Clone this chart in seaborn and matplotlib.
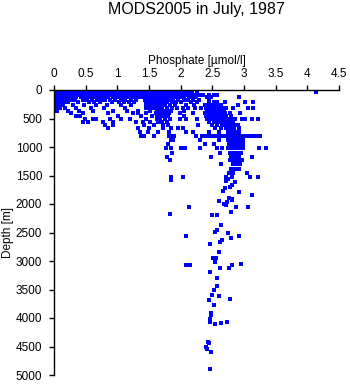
import matplotlib
matplotlib.use("Agg")
import matplotlib.pyplot as plt
import seaborn as sns
import pandas as pd

# Phosphate profiles (µmol/l) grouped by sampling depth (m)
row_depths = [0, 30, 60, 95, 130, 170, 210, 260, 310, 360, 410, 460, 510, 560,
              620, 670, 730, 800, 870, 950, 1020, 1100, 1170, 1230, 1300, 1380,
              1450, 1530]

p_0000 = [0.00, 0.03, 0.07, 0.10, 0.14, 0.18, 0.21, 0.25, 0.29, 0.33, 0.36, 0.40,
          0.44, 0.47, 0.51, 0.55, 0.59, 0.62, 0.66, 0.70, 0.74, 0.77, 0.81, 0.85,
          0.89, 0.92, 0.96, 1.00, 1.04, 1.07, 1.11, 1.15, 1.19, 1.22, 1.26, 1.30,
          1.34, 1.37, 1.41, 1.45, 1.49, 1.52, 1.56, 1.60, 1.64, 1.67, 1.71, 1.75,
          1.79, 1.83, 1.87]
p_0030 = [0.01, 0.05, 0.09, 0.12, 0.16, 0.20, 0.23, 0.27, 0.31, 0.35, 0.38, 0.42,
          0.46, 0.49, 0.53, 0.57, 0.61, 0.64, 0.68, 0.72, 0.75, 0.79, 0.83, 0.87,
          0.90, 0.94, 0.98, 1.02, 1.05, 1.09, 1.13, 1.17, 1.20, 1.24, 1.28, 1.32,
          1.35, 1.39, 1.43, 1.47, 1.50, 1.54, 1.58, 1.62, 1.65, 1.69, 1.73, 1.77,
          1.81, 1.85, 1.90, 1.94, 2.00, 2.08, 2.16, 4.13]
p_0060 = [0.00, 0.04, 0.08, 0.11, 0.15, 0.19, 0.22, 0.26, 0.30, 0.34, 0.37, 0.41,
          0.45, 0.48, 0.52, 0.56, 0.60, 0.63, 0.67, 0.71, 0.75, 0.78, 0.82, 0.86,
          0.89, 0.93, 0.97, 1.01, 1.04, 1.08, 1.12, 1.16, 1.19, 1.23, 1.27, 1.31,
          1.34, 1.38, 1.42, 1.46, 1.49, 1.53, 1.57, 1.61, 1.64, 1.68, 1.72, 1.76,
          1.80, 1.84, 1.88, 1.92, 1.97, 2.03, 2.10, 2.18, 2.25]
p_0095 = [0.00, 0.04, 0.07, 0.11, 0.15, 0.18, 0.22, 0.26, 0.29, 0.33, 0.37, 0.41,
          0.44, 0.48, 0.52, 0.55, 0.59, 0.63, 0.66, 0.70, 0.74, 0.78, 0.81, 0.85,
          0.89, 0.93, 0.96, 1.00, 1.04, 1.08, 1.11, 1.15, 1.19, 1.23, 1.27, 1.30,
          1.34, 1.38, 1.42, 1.45, 1.49, 1.53, 1.56, 1.60, 1.64, 1.68, 1.71, 1.75,
          1.79, 1.83, 1.87, 1.91, 1.96, 2.01, 2.07, 2.14, 2.22, 2.30, 2.36, 2.45,
          2.52, 2.57]
p_0130 = [0.00, 0.04, 0.08, 0.11, 0.15, 0.19, 0.23, 0.27, 0.31, 0.35, 0.42, 0.46,
          0.50, 0.55, 0.62, 0.66, 0.71, 0.78, 0.82, 0.86, 0.93, 0.97, 1.03, 1.08,
          1.14, 1.18, 1.25, 1.30, 1.36, 1.40, 1.45, 1.49, 1.53, 1.57, 1.61, 1.65,
          1.69, 1.73, 1.77, 1.81, 1.85, 1.89, 1.93, 1.97, 2.02, 2.06, 2.13, 2.18,
          2.24, 2.41, 2.48, 2.92]
p_0170 = [0.00, 0.04, 0.08, 0.12, 0.16, 0.20, 0.27, 0.33, 0.45, 0.52, 0.60, 0.68,
          0.74, 0.80, 0.89, 0.97, 1.06, 1.12, 1.21, 1.29, 1.44, 1.48, 1.52, 1.56,
          1.60, 1.64, 1.68, 1.72, 1.76, 1.82, 1.88, 1.95, 2.05, 2.12, 2.20, 2.29,
          2.45]
p_0210 = [0.00, 0.03, 0.07, 0.11, 0.15, 0.22, 0.38, 0.55, 0.63, 0.72, 0.91, 1.02,
          1.10, 1.18, 1.26, 1.45, 1.49, 1.53, 1.57, 1.61, 1.65, 1.69, 1.74, 1.79,
          1.86, 1.93, 2.00, 2.17, 2.26, 2.44, 2.52, 2.58, 2.70, 3.01, 3.14]
p_0260 = [0.00, 0.04, 0.07, 0.11, 0.14, 0.30, 0.48, 0.66, 0.84, 1.05, 1.22, 1.46,
          1.50, 1.54, 1.58, 1.62, 1.66, 1.70, 1.75, 1.83, 1.91, 2.08, 2.21, 2.38,
          2.43, 2.47, 2.51, 2.55, 2.59, 2.64, 2.91]
p_0310 = [0.02, 0.06, 0.10, 0.17, 0.35, 0.58, 0.79, 1.12, 1.46, 1.51, 1.55, 1.59,
          1.63, 1.67, 1.71, 1.78, 1.86, 1.94, 2.03, 2.12, 2.22, 2.32, 2.40, 2.44,
          2.48, 2.52, 2.56, 2.60, 2.65, 2.72, 2.82, 3.07, 3.14]
p_0360 = [0.05, 0.22, 0.40, 0.62, 0.93, 1.16, 1.33, 1.52, 1.62, 1.66, 1.70, 1.74,
          1.78, 1.84, 2.05, 2.41, 2.45, 2.49, 2.53, 2.57, 2.62, 2.68]
p_0410 = [0.27, 0.45, 0.85, 1.25, 1.33, 1.46, 1.61, 1.65, 1.70, 1.76, 1.82, 1.99,
          2.20, 2.38, 2.42, 2.46, 2.50, 2.54, 2.58, 2.63, 2.70, 2.78, 2.93]
p_0460 = [0.34, 0.41, 1.01, 1.38, 1.55, 1.63, 1.68, 1.73, 1.80, 2.06, 2.40, 2.44,
          2.48, 2.52, 2.56, 2.60, 2.65, 2.71, 2.80]
p_0510 = [0.49, 0.62, 0.67, 0.88, 1.06, 1.20, 1.45, 1.62, 1.68, 1.75, 1.83, 1.99,
          2.08, 2.25, 2.41, 2.46, 2.51, 2.56, 2.61, 2.66, 2.71, 2.76, 2.81, 2.86,
          2.97, 3.01, 3.12, 3.22]
p_0560 = [0.46, 0.54, 0.77, 0.93, 1.30, 1.41, 1.52, 1.64, 1.71, 1.78, 2.45, 2.52,
          2.58, 2.64, 2.70, 2.76, 2.82]
p_0620 = [0.80, 0.93, 1.42, 1.58, 1.72, 1.80, 2.27, 2.50, 2.57, 2.66, 2.72, 2.78,
          2.84, 2.90]
p_0670 = [0.85, 1.33, 1.50, 1.72, 1.84, 1.95, 2.04, 2.55, 2.64, 2.72, 2.78, 2.84,
          2.92]
p_0730 = [1.35, 1.49, 1.64, 1.81, 2.09, 2.20, 2.45, 2.60, 2.74, 2.80, 2.86, 2.92]
p_0800 = [1.38, 1.42, 1.58, 1.82, 1.86, 1.90, 2.24, 2.34, 2.40, 2.46, 2.52, 2.58,
          2.64, 2.70, 2.75, 2.80, 2.85, 2.90, 2.95, 3.00, 3.06, 3.12, 3.19, 3.25]
p_0870 = [1.84, 1.88, 2.30, 2.60, 2.74, 2.80, 2.86, 2.92, 2.98]
p_0950 = [1.80, 2.38, 2.52, 2.76, 2.82, 2.87, 2.93, 2.98]
p_1020 = [1.77, 1.84, 2.01, 2.07, 2.31, 2.57, 2.65, 2.74, 2.80, 2.86, 2.92, 2.98,
          3.24, 3.34]
p_1100 = [1.86, 2.62, 2.78, 2.84, 2.90, 2.96]
p_1170 = [1.79, 2.48, 2.80, 2.86, 2.92, 3.12]
p_1230 = [1.83, 2.78, 2.84, 2.90, 2.97]
p_1300 = [2.63, 2.82, 2.88, 2.94]
p_1380 = [2.80, 2.86, 2.92]
p_1450 = [2.76, 2.82, 3.05]
p_1530 = [1.85, 2.04, 2.72, 2.81, 3.09, 3.22]

row_phosphate = [p_0000, p_0030, p_0060, p_0095, p_0130, p_0170, p_0210, p_0260,
                 p_0310, p_0360, p_0410, p_0460, p_0510, p_0560, p_0620, p_0670,
                 p_0730, p_0800, p_0870, p_0950, p_1020, p_1100, p_1170, p_1230,
                 p_1300, p_1380, p_1450, p_1530]

# Individual deep samples
deep_phosphate = [1.85, 2.75, 2.72, 2.86, 2.81, 2.78, 2.67, 2.70, 2.92, 3.12,
                  2.76, 2.81, 2.61, 2.73, 2.68, 2.72, 2.81, 2.88, 3.07, 1.83,
                  2.13, 2.50, 2.58, 2.79, 2.64, 2.54, 2.58, 2.75, 2.92, 2.08,
                  2.79, 2.46, 2.62, 2.66, 2.61, 2.51, 2.56, 2.54, 2.09, 2.15,
                  2.81, 2.95, 2.62, 2.76, 2.47, 2.58, 2.58, 2.53, 2.50, 2.61,
                  2.45, 2.78, 2.52, 2.48, 2.48, 2.46, 2.46, 2.54, 2.64, 2.73,
                  2.43, 2.45, 2.40, 2.42, 2.48, 2.46]
deep_depth = [1579, 1560, 1600, 1620, 1667, 1708, 1766, 1725, 1795, 1848,
              1901, 1918, 1953, 1959, 2000, 2023, 1930, 2058, 2047, 2181,
              2053, 2199, 2199, 2135, 2374, 2485, 2456, 2515, 2556, 2561,
              2602, 2696, 2661, 2637, 2848, 2953, 2953, 3023, 3065, 3076,
              3070, 3053, 3129, 3129, 3193, 3304, 3444, 3515, 3602, 3620,
              3690, 3667, 3778, 3918, 3947, 4011, 4076, 4111, 4082, 4076,
              4415, 4444, 4509, 4550, 4602, 4895]

x_ticks = [0, 0.5, 1, 1.5, 2, 2.5, 3, 3.5, 4, 4.5]
x_tick_labels = ["0", "0.5", "1", "1.5", "2", "2.5", "3", "3.5", "4", "4.5"]
y_ticks = [0, 500, 1000, 1500, 2000, 2500, 3000, 3500, 4000, 4500, 5000]

records = []
for d, plist in zip(row_depths, row_phosphate):
    for p in plist:
        records.append((p, d))
for p, d in zip(deep_phosphate, deep_depth):
    records.append((p, d))
df = pd.DataFrame(records, columns=["phosphate", "depth"])

sns.set_theme(style="white")
plt.rcParams["font.family"] = ["Liberation Sans", "DejaVu Sans"]

fig = plt.figure(figsize=(3.5, 3.84), dpi=100)
ax = fig.add_axes([54 / 350, 1 - 375 / 384, 285 / 350, 285 / 384])

sns.scatterplot(data=df, x="phosphate", y="depth", marker="s", s=5,
                color="#0000ff", linewidth=0, ax=ax, legend=False)

ax.set_xlim(0, 4.5)
ax.set_ylim(5000, 0)
ax.xaxis.tick_top()
ax.xaxis.set_label_position("top")
ax.set_xticks(x_ticks)
ax.set_xticklabels(x_tick_labels)
ax.set_yticks(y_ticks)
ax.set_yticklabels([str(v) for v in y_ticks])
ax.tick_params(axis="both", direction="out", length=3.6, width=1, color="black",
               labelsize=8.5, labelcolor="black")
ax.tick_params(axis="x", top=True, bottom=False, pad=3.5)
ax.tick_params(axis="y", left=True, right=False, pad=5)
for side in ("right", "bottom"):
    ax.spines[side].set_visible(False)
for side in ("top", "left"):
    ax.spines[side].set_visible(True)
    ax.spines[side].set_color("black")
    ax.spines[side].set_linewidth(1)
ax.set_xlabel("Phosphate [µmol/l]", fontsize=8.5, color="black", labelpad=3)
ax.set_ylabel("Depth [m]", fontsize=8.5, color="black")
ax.yaxis.set_label_coords(-0.142, 0.5)
ax.grid(False)

fig.text(196.5 / 350, 1 - 9.5 / 384, "MODS2005 in July, 1987", ha="center",
         va="center", fontsize=11.5, color="black")

fig.savefig("out.png", dpi=100, facecolor="white")
